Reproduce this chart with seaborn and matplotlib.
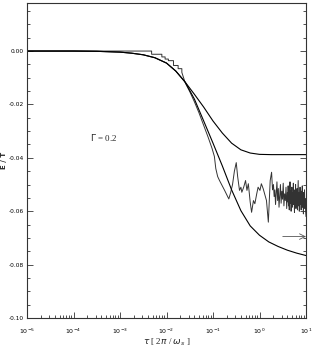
import numpy as np
import matplotlib
matplotlib.use("Agg")
import matplotlib.pyplot as plt
import matplotlib.ticker as mticker
import seaborn as sns

# smooth part shared by both model curves (log10 tau, E/T)
common_logt = [-5.0, -4.0, -3.5, -3.0, -2.75, -2.5, -2.25, -2.0, -1.8, -1.6]
common_e = [0.0, 0.0, -0.0001, -0.0004, -0.0008, -0.0014, -0.0025, -0.0045, -0.0075, -0.0116]

upper_logt = [-1.4, -1.2, -1.0, -0.8, -0.6, -0.4, -0.2, 0.0, 0.25, 0.5, 1.0]
upper_e = [-0.0162, -0.0210, -0.0262, -0.0307, -0.0345, -0.0370, -0.0382, -0.0387, -0.0388, -0.0388, -0.0388]

lower_logt = [-1.4, -1.2, -1.0, -0.8, -0.6, -0.4, -0.2, 0.0, 0.2, 0.4, 0.6, 0.8, 1.0]
lower_e = [-0.0180, -0.0262, -0.0345, -0.0430, -0.0520, -0.0598, -0.0655, -0.0690, -0.0715,
           -0.0732, -0.0746, -0.0757, -0.0766]

# simulated (noisy) curve: staircase start, then fluctuations
sim_logt = [-5.0, -2.32, -2.32, -2.10, -2.10, -2.03, -2.03, -1.96, -1.96, -1.85, -1.85,
            -1.75, -1.75, -1.67, -1.67, -1.60, -1.5, -1.4, -1.3, -1.2, -1.1, -1.02, -0.97,
            -0.94, -0.90, -0.86, -0.80, -0.75, -0.70, -0.66, -0.62, -0.58, -0.54, -0.50,
            -0.47, -0.43, -0.40, -0.38, -0.34, -0.30, -0.27, -0.24, -0.20, -0.17, -0.13,
            -0.10, -0.06, -0.03, 0.01, 0.04, 0.08, 0.11, 0.15, 0.19, 0.21, 0.23, 0.26, 0.28]
sim_e = [0.0, 0.0, -0.0012, -0.0012, -0.0022, -0.0022, -0.0030, -0.0030, -0.0036, -0.0036,
         -0.0054, -0.0054, -0.0066, -0.0066, -0.0080, -0.0118, -0.0152, -0.0190, -0.0232,
         -0.0278, -0.0325, -0.0365, -0.0395, -0.0440, -0.0470, -0.0485, -0.0505, -0.0522,
         -0.0540, -0.0554, -0.0530, -0.0500, -0.0450, -0.0418, -0.0470, -0.0522, -0.0510,
         -0.0529, -0.0510, -0.0485, -0.0522, -0.0497, -0.0566, -0.0604, -0.0560, -0.0572,
         -0.0535, -0.0510, -0.0522, -0.0497, -0.0516, -0.0535, -0.0560, -0.0641, -0.0565,
         -0.0485, -0.0454, -0.0520]
mid_e = [-0.0500, -0.0545, -0.0520, -0.0575, -0.0530, -0.0490, -0.0560, -0.0515, -0.0585,
         -0.0540, -0.0500, -0.0570, -0.0525, -0.0555, -0.0495, -0.0580, -0.0535, -0.0560,
         -0.0510, -0.0590, -0.0530]
dense_e = [-0.0565, -0.0505, -0.0580, -0.0520, -0.0595, -0.0540, -0.0490, -0.0570, -0.0525, -0.0600,
           -0.0545, -0.0510, -0.0585, -0.0530, -0.0565, -0.0495, -0.0575, -0.0540, -0.0605, -0.0520,
           -0.0560, -0.0500, -0.0590, -0.0535, -0.0570, -0.0515, -0.0595, -0.0545, -0.0485, -0.0580,
           -0.0530, -0.0600, -0.0550, -0.0510, -0.0575, -0.0540, -0.0595, -0.0525, -0.0565, -0.0505,
           -0.0585, -0.0545, -0.0610, -0.0530, -0.0570, -0.0520, -0.0590, -0.0555, -0.0600, -0.0620]

arrow_logt = (0.5, 1.0)
arrow_e = -0.0695

xtick_vals = [1e-5, 1e-4, 1e-3, 1e-2, 1e-1, 1e0, 1e1]
xtick_labels = [r'$10^{-5}$', r'$10^{-4}$', r'$10^{-3}$', r'$10^{-2}$', r'$10^{-1}$', r'$10^{0}$', r'$10^{1}$']
ytick_vals = [0.00, -0.02, -0.04, -0.06, -0.08, -0.10]
ytick_labels = ["0.00", "-0.02", "-0.04", "-0.06", "-0.08", "-0.10"]

sns.set_style("ticks")
plt.rcParams['font.family'] = ['DejaVu Sans']

fig = plt.figure(figsize=(3.27, 3.54), dpi=100)
ax = fig.add_axes([27 / 327, 1 - 318 / 354, 279 / 327, 315 / 354])

up_x = 10 ** np.array(common_logt + upper_logt)
lo_x = 10 ** np.array(common_logt + lower_logt)
sim_x = 10 ** np.concatenate([sim_logt, np.linspace(0.30, 0.60, len(mid_e)),
                              np.linspace(0.608, 1.0, len(dense_e))])
sim_y = sim_e + mid_e + dense_e

sns.lineplot(x=sim_x, y=sim_y, sort=False, estimator=None, color='#333333', lw=0.7, ax=ax)
sns.lineplot(x=up_x, y=common_e + upper_e, sort=False, estimator=None, color='black', lw=0.8, ax=ax)
sns.lineplot(x=lo_x, y=common_e + lower_e, sort=False, estimator=None, color='black', lw=0.8, ax=ax)

ax.annotate('', xy=(10 ** arrow_logt[1], arrow_e), xytext=(10 ** arrow_logt[0], arrow_e),
            arrowprops=dict(arrowstyle='->', lw=0.6, color='#555555', shrinkA=0, shrinkB=0))

ax.set_xscale('log')
ax.set_xlim(1e-5, 10)
ax.set_xticks(xtick_vals)
ax.set_xticklabels(xtick_labels)
ax.xaxis.set_minor_locator(mticker.LogLocator(base=10, subs=np.arange(2, 10)))
ax.xaxis.set_minor_formatter(mticker.NullFormatter())
ax.set_ylim(-0.10, 0.018)
ax.set_yticks(ytick_vals)
ax.set_yticklabels(ytick_labels)
ax.set_yticks(np.arange(-0.10, 0.0176, 0.005), minor=True)

for s in ax.spines.values():
    s.set_linewidth(0.8)
    s.set_color('#333333')
ax.tick_params(which='both', direction='in', right=True, top=False, labelsize=4.5,
               width=0.6, colors='#333333', labelcolor='black')
ax.tick_params(which='major', length=4)
ax.tick_params(which='minor', length=2)
ax.tick_params(axis='x', which='major', pad=6)
ax.tick_params(axis='y', which='major', labelsize=4.2, pad=2.5)

ax.text(10 ** -3.65, -0.0324, r'$\Gamma$ = 0.2', family='Liberation Serif', fontsize=6.5,
        va='center', ha='left')
ax.set_xlabel(r'$\tau$ [ 2$\pi$ / $\omega_s$ ]', family='Liberation Serif', fontsize=6.5)
ax.xaxis.set_label_coords(0.5, -0.058)
ax.set_ylabel('E / T', fontweight='bold', fontsize=5)
ax.yaxis.set_label_coords(-0.071, 0.5)

fig.savefig('out.png', dpi=100)
